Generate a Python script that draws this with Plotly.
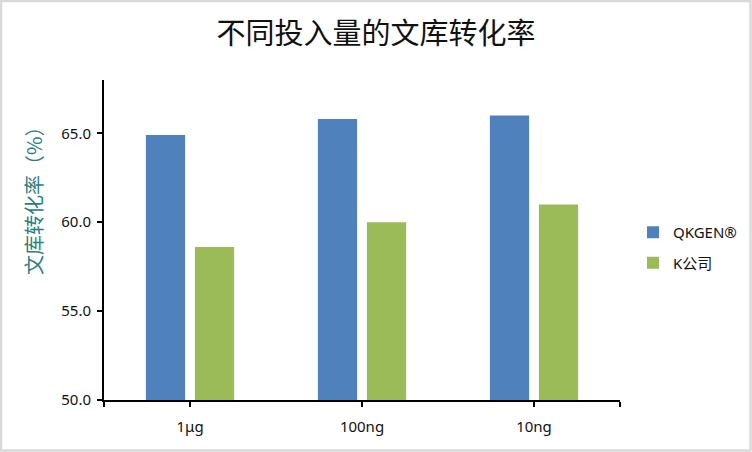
import plotly.graph_objects as go

categories = ["1μg", "100ng", "10ng"]
qkgen_values = [64.9, 65.8, 66.0]
kco_values = [58.6, 60.0, 61.0]
series_names = ["QKGEN®", "K公司"]
y_ticks = [50, 55, 60, 65]

L, R, T, B = 104, 132, 80, 52
W, H = 752, 452
pw, ph = W - L - R, H - T - B

x_idx = list(range(len(categories)))

fig = go.Figure()
fig.add_trace(go.Bar(x=x_idx, y=qkgen_values, name=series_names[0],
                     marker=dict(color="#4f81bd", line=dict(width=0)),
                     legendgroup="a"))
fig.add_trace(go.Bar(x=x_idx, y=kco_values, name=series_names[1],
                     marker=dict(color="#9bbb59", line=dict(width=0)),
                     legendgroup="b"))

fig.update_layout(
    width=W, height=H,
    margin=dict(l=L, r=R, t=T, b=B),
    paper_bgcolor="white", plot_bgcolor="white",
    barmode="group", bargap=0.43, bargroupgap=0.2,
    title=dict(text="不同投入量的文库转化率", x=0.5, xref="container", xanchor="center",
               y=1 - 34 / H, yref="container", yanchor="middle",
               font=dict(family="Noto Sans CJK SC", size=29, color="#111111")),
    font=dict(family="Noto Sans, Noto Sans CJK SC", size=15, color="#111111"),
    legend=dict(x=633 / W, xref="container", xanchor="left",
                y=1 - 216 / H, yref="container", yanchor="top",
                traceorder="grouped", tracegroupgap=8,
                font=dict(family="Noto Sans, Noto Sans CJK SC", size=15, color="#111111"),
                bgcolor="rgba(0,0,0,0)"),
    showlegend=True,
)

fig.update_yaxes(range=[50, 68], tickvals=y_ticks, tickformat=".1f",
                 showgrid=False, zeroline=False,
                 showline=True, linecolor="black", linewidth=2,
                 ticks="outside", ticklen=5, tickwidth=2, tickcolor="black",
                 ticklabelstandoff=3,
                 tickfont=dict(size=15))
fig.update_xaxes(range=[-0.5, 2.5],
                 tickvals=[-0.5] + x_idx + [2.5],
                 ticktext=[""] + categories + [""],
                 showgrid=False, zeroline=False,
                 showline=True, linecolor="black", linewidth=2,
                 ticks="outside", ticklen=5, tickwidth=2, tickcolor="black",
                 ticklabelstandoff=7,
                 tickfont=dict(size=15))

# y-axis title as rotated annotation
fig.add_annotation(text="文库转化率（%）", textangle=-90,
                   xref="paper", yref="paper",
                   x=(33 - L) / pw, y=(H - B - 196) / ph,
                   showarrow=False, xanchor="center", yanchor="middle",
                   font=dict(family="Noto Sans CJK SC", size=20, color="#2a8080"))

# outer light-gray border
fig.add_shape(type="rect", xref="paper", yref="paper",
              x0=(1 - L) / pw, x1=(W - 1.5 - L) / pw,
              y0=(H - B - (H - 1.5)) / ph, y1=(H - B - 1) / ph,
              line=dict(color="#d9d9d9", width=2.5), fillcolor="rgba(0,0,0,0)",
              layer="below")

fig.write_html("out.html", config={"displayModeBar": False},
               post_script="document.body.style.margin='0';document.body.style.overflow='hidden';")
